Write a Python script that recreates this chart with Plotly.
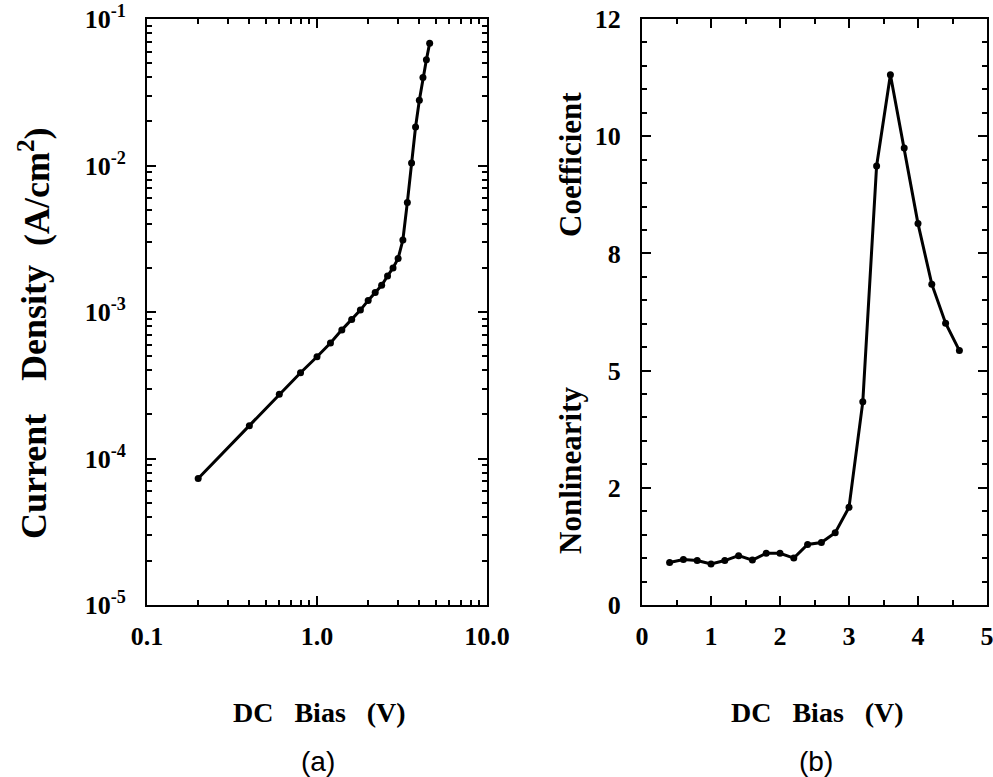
import plotly.graph_objects as go

# panel (a): current density vs DC bias (log-log)
bias_a = [0.2, 0.4, 0.6, 0.8, 1.0, 1.2, 1.4, 1.6, 1.8, 2.0, 2.2, 2.4,
          2.6, 2.8, 3.0, 3.2, 3.4, 3.6, 3.8, 4.0, 4.2, 4.4, 4.6]
current = [7.3e-5, 1.67e-4, 2.74e-4, 3.85e-4, 4.95e-4, 6.15e-4, 7.55e-4,
           8.9e-4, 1.03e-3, 1.2e-3, 1.36e-3, 1.52e-3, 1.76e-3, 2.0e-3,
           2.32e-3, 3.1e-3, 5.6e-3, 1.04e-2, 1.83e-2, 2.79e-2, 3.98e-2,
           5.27e-2, 6.84e-2]

# panel (b): nonlinearity coefficient vs DC bias
bias_b = [0.4, 0.6, 0.8, 1.0, 1.2, 1.4, 1.6, 1.8, 2.0, 2.2, 2.4,
          2.6, 2.8, 3.0, 3.2, 3.4, 3.6, 3.8, 4.0, 4.2, 4.4, 4.6]
nonlin = [0.87, 0.93, 0.91, 0.84, 0.91, 1.01, 0.92, 1.06, 1.06, 0.96, 1.24,
          1.28, 1.48, 2.0, 4.16, 8.99, 10.86, 9.36, 7.81, 6.57, 5.77, 5.21]

ya_ticks = [1e-5, 1e-4, 1e-3, 1e-2, 1e-1]
ya_text = ["10<sup>-5</sup>", "10<sup>-4</sup>", "10<sup>-3</sup>",
           "10<sup>-2</sup>", "10<sup>-1</sup>"]
xa_ticks = [0.1, 1, 10]
xa_text = ["0.1", "1.0", "10.0"]
yb_ticks = [0, 2.4, 4.8, 7.2, 9.6, 12]
yb_text = ["0", "2", "5", "8", "10", "12"]

serif = "Liberation Serif"
W, H = 993, 777

fig = go.Figure()
fig.add_trace(go.Scatter(x=bias_a, y=current, mode="lines+markers",
                         line=dict(color="black", width=3),
                         marker=dict(color="black", size=7),
                         xaxis="x", yaxis="y", showlegend=False))
fig.add_trace(go.Scatter(x=bias_b, y=nonlin, mode="lines+markers",
                         line=dict(color="black", width=3),
                         marker=dict(color="black", size=7),
                         xaxis="x2", yaxis="y2", showlegend=False))

common = dict(showline=True, linecolor="black", linewidth=2, mirror="allticks",
              ticks="inside", ticklen=9, tickwidth=2, tickcolor="black",
              showgrid=False, zeroline=False, automargin=False,
              ticklabeloverflow="allow",
              tickfont=dict(family=serif, size=26, color="black", weight="bold"))
minor_style = dict(ticks="inside", ticklen=5, tickwidth=2, tickcolor="black",
                   showgrid=False)

log_minor = [m * 10 ** d for d in range(-5, 1) for m in range(2, 10)]

fig.update_layout(
    width=W, height=H,
    paper_bgcolor="white", plot_bgcolor="white",
    margin=dict(l=0, r=0, t=0, b=0),
    xaxis=dict(type="log", range=[-1, 1], domain=[147 / W, 487 / W],
               tickvals=xa_ticks, ticktext=xa_text, anchor="y",
               ticklabelstandoff=7,
               minor=dict(tickvals=[v for v in log_minor if 0.1 < v < 10],
                          **minor_style),
               **common),
    yaxis=dict(type="log", range=[-5, -1], domain=[1 - 605 / H, 1 - 19 / H],
               tickvals=ya_ticks, ticktext=ya_text, anchor="x",
               ticklabelstandoff=14,
               minor=dict(tickvals=[v for v in log_minor if 1e-5 < v < 1e-1],
                          **minor_style),
               **common),
    xaxis2=dict(range=[0, 5], domain=[642 / W, 987 / W], dtick=1, anchor="y2",
                ticklabelstandoff=7,
                minor=dict(dtick=0.5, **minor_style),
                **common),
    yaxis2=dict(range=[0, 12], domain=[1 - 605 / H, 1 - 19 / H], anchor="x2",
                tickvals=yb_ticks, ticktext=yb_text,
                ticklabelstandoff=14,
                minor=dict(dtick=0.48, **minor_style),
                **common),
)

title_font = dict(family=serif, size=28, color="black", weight="bold")
label_font = dict(family="Liberation Sans", size=28, color="black")
note = dict(xref="paper", yref="paper", showarrow=False,
            xanchor="center", yanchor="middle")
for cx, sub in [(319, "(a)"), (817, "(b)")]:
    fig.add_annotation(text="DC   Bias   (V)", x=cx / W, y=1 - 712 / H,
                       font=title_font, **note)
    fig.add_annotation(text=sub, x=(cx - 1) / W, y=1 - 761 / H,
                       font=label_font, **note)

# y titles: words spread along the axis as in the original
left_font = dict(family=serif, size=36, color="black", weight="bold")
for word, cy in [("Current", 477), ("Density", 323), ("(A/cm<sup>2</sup>)", 187)]:
    fig.add_annotation(text=word, textangle=-90, x=34 / W, y=1 - cy / H,
                       font=left_font, **note)
right_font = dict(family=serif, size=31, color="black", weight="bold")
for word, cy in [("Nonlinearity", 470), ("Coefficient", 165)]:
    fig.add_annotation(text=word, textangle=-90, x=570 / W, y=1 - cy / H,
                       font=right_font, **note)

fig.write_html("out.html", config={"displayModeBar": False},
               post_script="document.body.style.margin='0';")
